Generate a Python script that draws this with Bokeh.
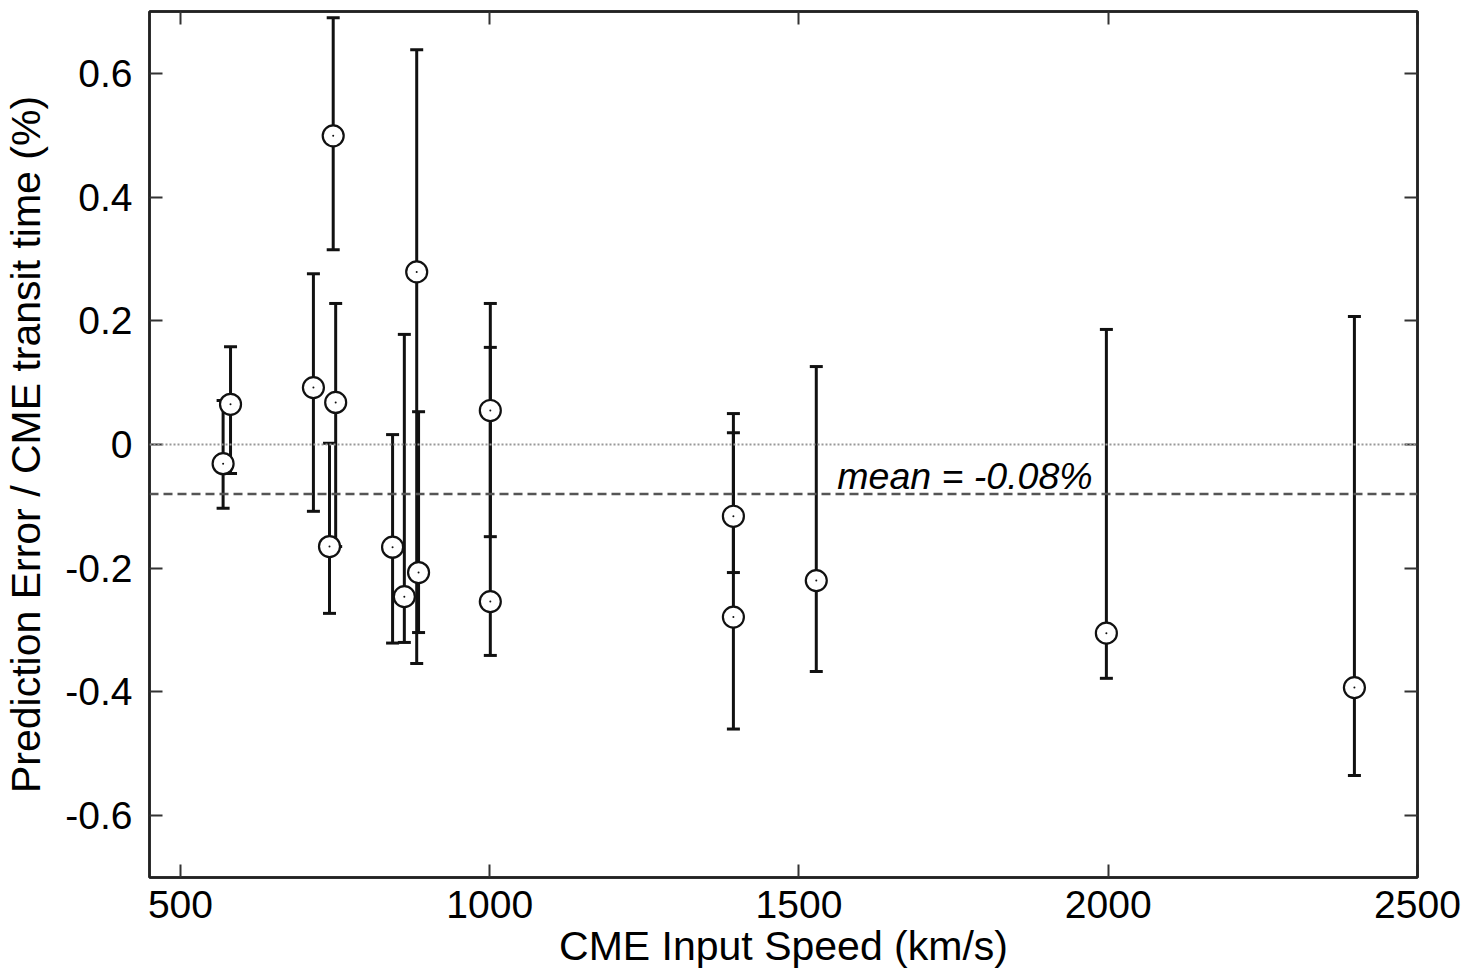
from bokeh.plotting import figure
from bokeh.models import Range1d, FixedTicker, LinearAxis, Whisker, TeeHead, Span, Label, ColumnDataSource
from bokeh.embed import file_html
from bokeh.resources import INLINE

# ---- data ----
speed = [569, 581, 715, 741, 747, 751, 843, 862, 882, 885, 1001, 1001, 1394, 1394, 1528, 1997, 2398]
error = [-0.031, 0.065, 0.092, -0.165, 0.499, 0.068, -0.166, -0.246, 0.279, -0.207, 0.055, -0.254,
         -0.116, -0.279, -0.220, -0.305, -0.393]
upper = [0.071, 0.158, 0.276, 0.002, 0.690, 0.228, 0.016, 0.178, 0.638, 0.053, 0.228, 0.157,
         0.050, 0.019, 0.126, 0.186, 0.207]
lower = [-0.103, -0.047, -0.108, -0.273, 0.315, -0.165, -0.321, -0.320, -0.354, -0.304, -0.149, -0.341,
         -0.207, -0.460, -0.367, -0.378, -0.535]
mean_value = -0.08
mean_text = "mean = -0.08%"
x_ticks = [500, 1000, 1500, 2000, 2500]
y_ticks = [-0.6, -0.4, -0.2, 0.0, 0.2, 0.4, 0.6]
y_tick_labels = ["-0.6", "-0.4", "-0.2", "0", "0.2", "0.4", "0.6"]
x_label = "CME Input Speed (km/s)"
y_label = "Prediction Error / CME transit time (%)"

FONT = "Liberation Sans"
TICK_FS = "39px"
LABEL_FS = "41px"

src = ColumnDataSource(dict(x=speed, y=error, up=upper, lo=lower))

p = figure(width=1470, height=971, x_range=Range1d(450, 2500), y_range=Range1d(-0.7, 0.7),
           output_backend="svg", toolbar_location=None,
           min_border_left=149, min_border_right=53, min_border_top=11, min_border_bottom=93,
           x_axis_label=x_label, y_axis_label=y_label)
p.background_fill_color = "white"
p.border_fill_color = "white"
p.outline_line_color = "#222222"
p.outline_line_width = 2.5
p.grid.visible = False

for ax in (p.xaxis[0], p.yaxis[0]):
    ax.axis_line_color = "#222222"
    ax.axis_line_width = 2.5
    ax.major_tick_in = 13
    ax.major_tick_out = 0
    ax.major_tick_line_width = 2
    ax.major_tick_line_color = "#333333"
    ax.minor_tick_line_color = None
    ax.major_label_text_font = FONT
    ax.major_label_text_font_size = TICK_FS
    ax.major_label_text_color = "black"
    ax.axis_label_text_font = FONT
    ax.axis_label_text_font_size = LABEL_FS
    ax.axis_label_text_font_style = "normal"
    ax.axis_label_text_color = "black"

p.xaxis[0].ticker = FixedTicker(ticks=x_ticks)
p.yaxis[0].ticker = FixedTicker(ticks=y_ticks)
p.yaxis[0].major_label_overrides = {t: s for t, s in zip(y_ticks, y_tick_labels)}
p.xaxis[0].major_label_standoff = 13
p.xaxis[0].axis_label_standoff = 2
p.yaxis[0].major_label_standoff = 17
p.yaxis[0].axis_label_standoff = 13

# mirror axes (ticks only, no labels drawn)
top = LinearAxis(ticker=FixedTicker(ticks=x_ticks))
right = LinearAxis(ticker=FixedTicker(ticks=y_ticks))
for ax in (top, right):
    ax.axis_line_color = "#222222"
    ax.axis_line_width = 2.5
    ax.major_tick_in = 13
    ax.major_tick_out = 0
    ax.major_tick_line_width = 2
    ax.major_tick_line_color = "#333333"
    ax.minor_tick_line_color = None
    ax.major_label_text_font_size = "0px"
    ax.major_label_text_color = None
    ax.major_label_text_alpha = 0
    ax.major_label_standoff = 0
p.add_layout(top, "above")
p.add_layout(right, "right")

# reference lines
p.add_layout(Span(location=0, dimension="width", line_color="#999999", line_width=2, line_dash="2 2"))
p.add_layout(Span(location=mean_value, dimension="width", line_color="#555555", line_width=2.5, line_dash="9 5"))

# error bars
w = Whisker(source=src, base="x", upper="up", lower="lo", line_color="#111111", line_width=3,
            upper_head=TeeHead(size=13, line_width=3, line_color="#111111"),
            lower_head=TeeHead(size=13, line_width=3, line_color="#111111"))
p.add_layout(w)

# points
p.scatter("x", "y", source=src, marker="circle", size=21, fill_color="white",
          line_color="#111111", line_width=2.2)
p.scatter("x", "y", source=src, marker="circle", size=2, fill_color="#111111", line_color=None)

p.add_layout(Label(x=1562, y=mean_value, y_offset=18, text=mean_text, text_font=FONT,
                   text_font_size="37.5px", text_font_style="italic", text_color="black",
                   text_align="left", text_baseline="alphabetic"))

open("out.html", "w").write(file_html(p, INLINE))
